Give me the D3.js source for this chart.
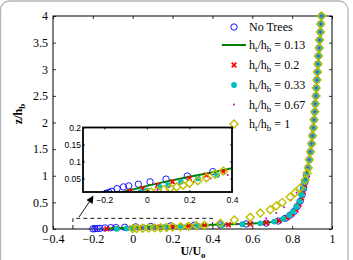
<!DOCTYPE html>
<html>
<head>
<meta charset="utf-8">
<script src="https://cdn.jsdelivr.net/npm/d3@7"></script>
<style>
  body { margin: 0; background: #fff; }
  svg { display: block; }
</style>
</head>
<body>
<div id="chart"></div>
<script>
// velocity profiles, each point is [U/Uo, z/hb]
const xTicks = [-0.4, -0.2, 0, 0.2, 0.4, 0.6, 0.8, 1]
const yTicks = [0, 0.5, 1, 1.5, 2, 2.5, 3, 3.5, 4]
const insetXTicks = [-0.2, 0, 0.2, 0.4]
const insetYTicks = [0.05, 0.1, 0.15, 0.2]
const legendNames = ["No Trees", "0.13", "0.2", "0.33", "0.67", "1"]

const noTrees = [[-0.2,0.003],[-0.19,0.006],[-0.178,0.009],[-0.165,0.012],[-0.14,0.02],[-0.11,0.025],[-0.085,0.028],[-0.04,0.033],[0.015,0.04],[0.09,0.048],[0.19,0.057],[0.31,0.07],[0.44,0.08],[0.57,0.095],[0.67,0.11],[0.73,0.15],[0.765,0.2],[0.79,0.26],[0.81,0.33],[0.825,0.42],[0.84,0.52],[0.85,0.64],[0.857,0.76],[0.864,0.88],[0.872,1.0],[0.88,1.15],[0.886,1.3],[0.892,1.45],[0.897,1.6],[0.902,1.75],[0.906,1.9],[0.91,2.05],[0.913,2.2],[0.916,2.35],[0.919,2.5],[0.921,2.65],[0.924,2.8],[0.927,2.95],[0.929,3.1],[0.932,3.25],[0.935,3.4],[0.938,3.55],[0.941,3.7],[0.944,3.85],[0.947,4.0]]

const ratio013 = [[-0.14,0.004],[-0.1,0.012],[-0.05,0.02],[0.0,0.028],[0.1,0.042],[0.2,0.055],[0.3,0.067],[0.4,0.08],[0.5,0.09],[0.6,0.102],[0.68,0.12],[0.74,0.16],[0.78,0.22],[0.805,0.3],[0.825,0.4],[0.84,0.52],[0.851,0.65],[0.86,0.8],[0.868,0.95],[0.878,1.15],[0.889,1.4],[0.899,1.7],[0.91,2.05],[0.92,2.5],[0.928,2.9],[0.936,3.3],[0.942,3.65],[0.948,4.0]]

const ratio02 = [[-0.13,0.004],[-0.08,0.012],[-0.02,0.02],[0.05,0.03],[0.12,0.04],[0.2,0.05],[0.28,0.06],[0.36,0.07],[0.48,0.08],[0.59,0.093],[0.67,0.115],[0.735,0.155],[0.775,0.21],[0.8,0.28],[0.82,0.36],[0.835,0.46],[0.848,0.58],[0.856,0.7],[0.863,0.83],[0.871,1.0],[0.879,1.15],[0.887,1.3],[0.891,1.45],[0.898,1.6],[0.901,1.75],[0.907,1.9],[0.909,2.05],[0.914,2.2],[0.915,2.35],[0.92,2.5],[0.92,2.65],[0.925,2.8],[0.926,2.95],[0.93,3.1],[0.931,3.25],[0.936,3.4],[0.937,3.55],[0.942,3.7],[0.943,3.85],[0.948,4.0]]

const ratio033 = [[-0.08,0.004],[-0.03,0.01],[0.0,0.015],[0.06,0.025],[0.1,0.03],[0.16,0.04],[0.24,0.05],[0.33,0.06],[0.45,0.075],[0.55,0.09],[0.64,0.107],[0.71,0.14],[0.755,0.19],[0.785,0.26],[0.805,0.33],[0.822,0.42],[0.838,0.52],[0.848,0.64],[0.855,0.76],[0.862,0.88],[0.87,1.0],[0.878,1.15],[0.885,1.3],[0.893,1.45],[0.896,1.6],[0.903,1.75],[0.905,1.9],[0.911,2.05],[0.912,2.2],[0.917,2.35],[0.918,2.5],[0.922,2.65],[0.923,2.8],[0.928,2.95],[0.928,3.1],[0.933,3.25],[0.934,3.4],[0.939,3.55],[0.94,3.7],[0.945,3.85],[0.946,4.0]]

const ratio067 = [[0.0,0.008],[0.05,0.016],[0.1,0.024],[0.15,0.032],[0.22,0.04],[0.3,0.05],[0.38,0.06],[0.46,0.075],[0.53,0.095],[0.6,0.13],[0.67,0.2],[0.72,0.3],[0.76,0.41],[0.795,0.55],[0.822,0.68],[0.845,0.83],[0.865,1.0],[0.877,1.15],[0.885,1.3],[0.891,1.45],[0.897,1.6],[0.901,1.75],[0.906,1.9],[0.909,2.05],[0.913,2.2],[0.915,2.35],[0.919,2.5],[0.921,2.65],[0.924,2.8],[0.926,2.95],[0.929,3.1],[0.932,3.25],[0.935,3.4],[0.938,3.55],[0.941,3.7],[0.944,3.85],[0.947,4.0]]

const ratio1 = [[0.0,0.006],[0.02,0.01],[0.05,0.013],[0.08,0.017],[0.11,0.021],[0.14,0.025],[0.17,0.03],[0.2,0.036],[0.24,0.043],[0.28,0.052],[0.32,0.062],[0.36,0.072],[0.44,0.11],[0.51,0.17],[0.59,0.22],[0.64,0.3],[0.69,0.36],[0.72,0.43],[0.75,0.5],[0.79,0.6],[0.815,0.68],[0.84,0.77],[0.865,0.92],[0.875,1.05],[0.881,1.15],[0.886,1.3],[0.892,1.45],[0.898,1.6],[0.902,1.75],[0.907,1.9],[0.91,2.05],[0.914,2.2],[0.916,2.35],[0.92,2.5],[0.921,2.65],[0.925,2.8],[0.927,2.95],[0.93,3.1],[0.932,3.25],[0.936,3.4],[0.938,3.55],[0.942,3.7],[0.944,3.85],[0.948,4.0]]

const W = 353, H = 260
const svg = d3.select("#chart").append("svg").attr("width", W).attr("height", H)

// outer frame of the figure
svg.append("rect").attr("x", 0.5).attr("y", 1).attr("width", 347.5).attr("height", 290)
    .attr("rx", 9).attr("fill", "#fff").attr("stroke", "#b4b4b4").attr("stroke-width", 1.3)

const x = d3.scaleLinear().domain([-0.4, 1]).range([53, 332])
const y = d3.scaleLinear().domain([0, 4]).range([229, 16])
const xi = d3.scaleLinear().domain([-0.3, 0.4]).range([83, 232])
const yi = d3.scaleLinear().domain([0.01, 0.2]).range([192, 127.5])

const serif = "'Liberation Serif', 'Times New Roman', serif"
const sans = "'Liberation Sans', Arial, sans-serif"

function drawSeries(g, kind, data, xs, ys) {
    if (kind == "line") {
        g.append("path").datum(data)
            .attr("fill", "none").attr("stroke", "#008000").attr("stroke-width", 2)
            .attr("d", d3.line().x(d => xs(d[0])).y(d => ys(d[1])))
        return
    }
    let sel = g.append("g").selectAll("path").data(data).join("path")
        .attr("transform", d => "translate(" + xs(d[0]) + "," + ys(d[1]) + ")")
    styleMarker(sel, kind)
}

function styleMarker(sel, kind) {
    if (kind == "circle") {
        sel.attr("d", d3.symbol(d3.symbolCircle, 32)).attr("fill", "none")
            .attr("stroke", "#0000ff").attr("stroke-width", 0.9)
    } else if (kind == "cross") {
        sel.attr("d", "M-2.3,-2.3L2.3,2.3M-2.3,2.3L2.3,-2.3").attr("fill", "none")
            .attr("stroke", "#ff0000").attr("stroke-width", 1.7)
    } else if (kind == "dot") {
        sel.attr("d", d3.symbol(d3.symbolCircle, 26)).attr("fill", "#00bfbf")
    } else if (kind == "point") {
        sel.attr("d", d3.symbol(d3.symbolCircle, 3)).attr("fill", "#bf00bf")
    } else if (kind == "diamond") {
        sel.attr("d", "M0,-4L4,0L0,4L-4,0Z").attr("fill", "none")
            .attr("stroke", "#bfbf00").attr("stroke-width", 1.4)
    }
}

const series = [
    {kind: "circle", data: noTrees},
    {kind: "line", data: ratio013},
    {kind: "cross", data: ratio02},
    {kind: "dot", data: ratio033},
    {kind: "point", data: ratio067},
    {kind: "diamond", data: ratio1}
]

// main axes ticks (inward, box on)
function inwardAxis(axis, scale, ticks, len, labels, fmt) {
    return axis(scale).tickValues(ticks).tickSizeInner(-len).tickSizeOuter(0)
        .tickPadding(labels ? 5 : 0).tickFormat(labels ? fmt : "")
}
const fmt = d3.format("")
const main = svg.append("g")
main.append("g").attr("transform", "translate(0,229)").call(inwardAxis(d3.axisBottom, x, xTicks, 3, true, fmt))
main.append("g").attr("transform", "translate(0,16)").call(inwardAxis(d3.axisTop, x, xTicks, 3, false))
main.append("g").attr("transform", "translate(53,0)").call(inwardAxis(d3.axisLeft, y, yTicks, 3, true, fmt))
main.append("g").attr("transform", "translate(332,0)").call(inwardAxis(d3.axisRight, y, yTicks, 3, false))
main.selectAll(".domain").remove()
main.selectAll(".tick line").attr("stroke", "#000").attr("stroke-width", 0.8)
main.selectAll(".tick text").attr("font-family", serif).attr("font-size", 12).attr("fill", "#000")
main.append("rect").attr("x", 53).attr("y", 16).attr("width", 279).attr("height", 213)
    .attr("fill", "none").attr("stroke", "#000").attr("stroke-width", 1)

// dashed zoom region and arrow
const dash = svg.append("g").attr("stroke", "#000").attr("stroke-width", 0.9).attr("stroke-dasharray", "4,3").attr("fill", "none")
dash.append("path").attr("d", d3.line()([[x(-0.3), y(0)], [x(-0.3), y(0.2)], [x(0.4), y(0.2)], [x(0.4), y(0)]]))

const plot = svg.append("g")
series.forEach(s => drawSeries(plot, s.kind, s.data, x, y))

svg.append("line").attr("x1", 79).attr("y1", 217).attr("x2", 90).attr("y2", 201)
    .attr("stroke", "#000").attr("stroke-width", 0.9)
svg.append("path").attr("d", "M93.5,195.5L92.6,204L86.5,200Z").attr("fill", "#000")

// axis titles
svg.append("text").attr("x", 193).attr("y", 255).attr("text-anchor", "middle")
    .attr("font-family", serif).attr("font-size", 12).attr("font-weight", "bold")
    .call(t => {
        t.append("tspan").text("U/U")
        t.append("tspan").attr("font-size", 9).attr("dy", 3).text("o")
    })
svg.append("text").attr("transform", "translate(22,114) rotate(-90)").attr("text-anchor", "middle")
    .attr("font-family", serif).attr("font-size", 12).attr("font-weight", "bold")
    .call(t => {
        t.append("tspan").text("z/h")
        t.append("tspan").attr("font-size", 9).attr("dy", 3).text("b")
    })

// legend
const legendY = [27, 45, 65, 85, 104.5, 124]
const legend = svg.append("g")
series.forEach((s, i) => {
    let row = legend.append("g").attr("transform", "translate(0," + legendY[i] + ")")
    if (s.kind == "line") {
        row.append("line").attr("x1", 222).attr("x2", 246).attr("stroke", "#008000").attr("stroke-width", 2)
    } else {
        styleMarker(row.append("path").attr("transform", "translate(234,0)"), s.kind)
    }
    let t = row.append("text").attr("x", 249).attr("y", 4).attr("font-family", serif).attr("font-size", 12)
    if (i == 0) {
        t.text(legendNames[i])
    } else {
        t.append("tspan").text("h")
        t.append("tspan").attr("font-size", 9).attr("dy", 3).text("t")
        t.append("tspan").attr("dy", -3).text("/h")
        t.append("tspan").attr("font-size", 9).attr("dy", 3).text("b")
        t.append("tspan").attr("dy", -3).text(" = " + legendNames[i])
    }
})

// inset
const inset = svg.append("g")
inset.append("rect").attr("x", 83).attr("y", 127.5).attr("width", 149).attr("height", 64.5).attr("fill", "#fff")
inset.append("clipPath").attr("id", "insetClip").append("rect")
    .attr("x", 83).attr("y", 127.5).attr("width", 149).attr("height", 64.5)
const insetPlot = inset.append("g").attr("clip-path", "url(#insetClip)")
series.forEach(s => drawSeries(insetPlot, s.kind, s.data, xi, yi))

const insetAxes = inset.append("g")
insetAxes.append("g").attr("transform", "translate(0,192)").call(inwardAxis(d3.axisBottom, xi, insetXTicks, 2, true, fmt))
insetAxes.append("g").attr("transform", "translate(0,127.5)").call(inwardAxis(d3.axisTop, xi, insetXTicks, 2, false))
insetAxes.append("g").attr("transform", "translate(83,0)").call(inwardAxis(d3.axisLeft, yi, insetYTicks, 2, true, fmt))
insetAxes.append("g").attr("transform", "translate(232,0)").call(inwardAxis(d3.axisRight, yi, insetYTicks, 2, false))
insetAxes.selectAll(".domain").remove()
insetAxes.selectAll(".tick line").attr("stroke", "#000").attr("stroke-width", 0.8)
insetAxes.selectAll(".tick text").attr("font-family", sans).attr("font-size", 8.5).attr("fill", "#000")
insetAxes.selectAll("g").filter(function() { return this.getAttribute("transform") == "translate(83,0)" })
    .selectAll(".tick text").attr("x", -2)
inset.append("rect").attr("x", 83).attr("y", 127.5).attr("width", 149).attr("height", 64.5)
    .attr("fill", "none").attr("stroke", "#000").attr("stroke-width", 1.8)
</script>
</body>
</html>
